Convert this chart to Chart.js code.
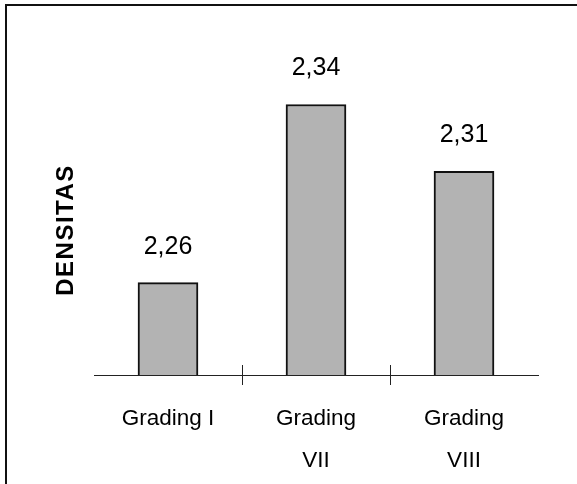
<!DOCTYPE html>
<html>
<head>
<meta charset="utf-8">
<script src="https://cdn.jsdelivr.net/npm/chart.js@4.4.1/dist/chart.umd.min.js"></script>
<style>
    html, body { margin: 0; padding: 0; background: #fff; }
    #wrap { position: relative; width: 577px; height: 484px; }
    #frame {
        position: absolute; left: 5px; top: 4px; right: 0; bottom: 0;
        border-top: 2px solid #111; border-left: 2px solid #111;
        pointer-events: none;
    }
    canvas { position: absolute; left: 0; top: 0; }
</style>
</head>
<body>
<div id="wrap">
    <canvas id="densitas" width="577" height="484"></canvas>
    <div id="frame"></div>
</div>
<script>
const categories = [["Grading I"], ["Grading", "VII"], ["Grading", "VIII"]];
const densitas = [2.26, 2.34, 2.31];
const yTitle = "DENSITAS";
const yMin = 2.2185;
const yMax = 2.36;

const FONT = "'Liberation Sans', Arial, sans-serif";

// value labels above each bar, written with a decimal comma
const valueLabels = {
    id: "valueLabels",
    afterDatasetsDraw(chart) {
        const { ctx } = chart;
        const meta = chart.getDatasetMeta(0);
        ctx.save();
        ctx.font = "25px " + FONT;
        ctx.fillStyle = "#000";
        ctx.textAlign = "center";
        ctx.textBaseline = "middle";
        meta.data.forEach((bar, i) => {
            ctx.fillText(densitas[i].toFixed(2).replace(".", ","), bar.x, bar.y - 36);
        });
        ctx.restore();
    }
};

// small marks crossing the axis between categories, plus the rotated axis title
const axisExtras = {
    id: "axisExtras",
    afterDraw(chart) {
        const { ctx, chartArea, scales: { x } } = chart;
        const y0 = chartArea.bottom;
        ctx.save();
        ctx.strokeStyle = "#222";
        ctx.lineWidth = 1;
        for (let i = 1; i < categories.length; i++) {
            const px = Math.round((x.getPixelForValue(i - 1) + x.getPixelForValue(i)) / 2) + 0.5;
            ctx.beginPath();
            ctx.moveTo(px, y0 - 10);
            ctx.lineTo(px, y0 + 10);
            ctx.stroke();
        }
        ctx.translate(66, 231);
        ctx.rotate(-Math.PI / 2);
        ctx.font = "bold 24px " + FONT;
        ctx.letterSpacing = "1.5px";
        ctx.fillStyle = "#000";
        ctx.textAlign = "center";
        ctx.textBaseline = "middle";
        ctx.fillText(yTitle, 1, 0);
        ctx.restore();
    }
};

new Chart(document.getElementById("densitas"), {
    type: "bar",
    data: {
        labels: categories,
        datasets: [{
            data: densitas,
            backgroundColor: "#b3b3b3",
            borderColor: "#111",
            borderWidth: 2,
            borderSkipped: false,
            barThickness: 60
        }]
    },
    options: {
        responsive: false,
        animation: false,
        layout: { padding: { left: 94, top: 60, right: 39, bottom: 0 } },
        plugins: {
            legend: { display: false },
            tooltip: { enabled: false }
        },
        scales: {
            x: {
                afterFit(scale) { scale.height = 109; },
                grid: { display: false, drawTicks: false },
                border: { display: true, color: "#222", width: 1 },
                ticks: {
                    color: "#000",
                    padding: 23,
                    maxRotation: 0,
                    font: { family: FONT, size: 22.5, lineHeight: 1.85 }
                }
            },
            y: {
                display: false,
                min: yMin,
                max: yMax
            }
        }
    },
    plugins: [valueLabels, axisExtras]
});
</script>
</body>
</html>
